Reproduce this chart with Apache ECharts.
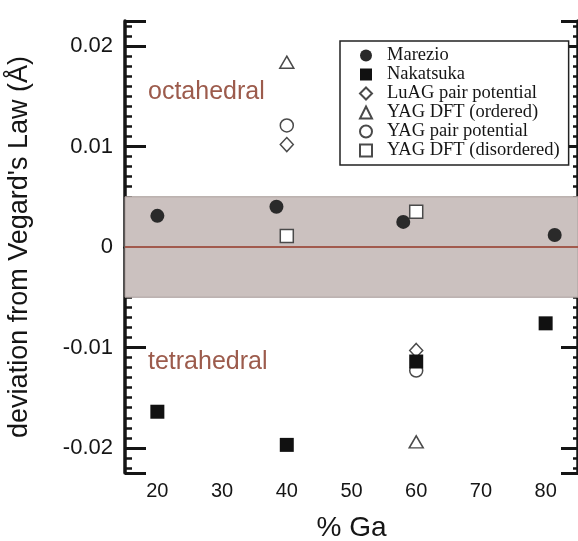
<!DOCTYPE html>
<html>
<head>
<meta charset="utf-8">
<title>Vegard's law deviation</title>
<script src="https://cdn.jsdelivr.net/npm/echarts@6/dist/echarts.min.js"></script>
<style>
  html, body { margin: 0; padding: 0; background: #fff; }
  #main { width: 578px; height: 541px; }
</style>
</head>
<body>
<div id="main"></div>
<script>
// values
var gaMarezio = [20, 38.4, 58, 81.4];
var devMarezio = [0.0031, 0.0040, 0.0025, 0.0012];
var gaNakatsuka = [20, 40, 60, 80];
var devNakatsuka = [-0.0164, -0.0197, -0.0114, -0.0076];
var gaCalc = [40, 60];
var devLuagPair = [0.0102, -0.0103];
var devYagDftOrdered = [0.0184, -0.0194];
var devYagPair = [0.0121, -0.0123];
var devYagDftDisordered = [0.0011, 0.0035];

var seriesNames = ['Marezio', 'Nakatsuka', 'LuAG pair potential', 'YAG DFT (ordered)',
    'YAG pair potential', 'YAG DFT (disordered)'];
var bandLimits = [-0.005, 0.005];

function pairs(xs, ys) {
    return xs.map(function (x, i) { return [x, ys[i]]; });
}

var ink = '#151515';
var sans = '"Liberation Sans", Arial, sans-serif';

var chart = echarts.init(document.getElementById('main'));

// scatter defaults to 0.8 opacity, the figure is fully opaque
var openStyle = { color: '#fff', borderColor: '#4a4a4a', borderWidth: 1.5, opacity: 1 };

option = {
    animation: false,
    grid: { left: 125, right: 0, top: 21, bottom: 68, outerBoundsMode: 'none', containLabel: false },
    legend: {
        data: seriesNames,
        orient: 'vertical',
        left: 340,
        top: 41,
        padding: [5, 9, 5, 19],
        itemWidth: 12,
        itemHeight: 12,
        itemGap: 0,
        backgroundColor: '#fff',
        borderColor: '#222',
        borderWidth: 1.5,
        textStyle: {
            fontFamily: '"Liberation Serif", "Times New Roman", serif',
            fontSize: 18.5,
            lineHeight: 16.5,
            padding: [0, 0, 0, 10],
            color: ink
        }
    },
    xAxis: [
        {
            type: 'value',
            min: 15,
            max: 85,
            splitNumber: 7,
            name: '% Ga',
            nameLocation: 'middle',
            nameGap: 41,
            nameTextStyle: { fontFamily: sans, fontSize: 28, color: ink },
            axisLine: { lineStyle: { color: ink, width: 3 } },
            axisTick: { inside: true, length: 17, lineStyle: { color: ink, width: 3 } },
            axisLabel: { fontFamily: sans, fontSize: 20, color: ink, margin: 8,
                showMinLabel: false, showMaxLabel: false },
            splitLine: { show: false }
        },
        {
            type: 'value',
            position: 'top',
            min: 15,
            max: 85,
            splitNumber: 7,
            axisLine: { lineStyle: { color: ink, width: 3 } },
            axisTick: { inside: true, length: 17, lineStyle: { color: ink, width: 3 } },
            axisLabel: { show: false },
            splitLine: { show: false }
        }
    ],
    yAxis: [
        {
            type: 'value',
            min: -0.0225,
            max: 0.0225,
            splitNumber: 4,
            name: "deviation from Vegard's Law (Å)",
            nameLocation: 'middle',
            nameGap: 92,
            nameTextStyle: { fontFamily: sans, fontSize: 27, color: ink },
            axisLine: { lineStyle: { color: ink, width: 3.5 } },
            axisTick: { inside: true, length: 21, lineStyle: { color: ink, width: 3 } },
            minorTick: { show: true, splitNumber: 10, length: 7, lineStyle: { color: ink, width: 2.5 } },
            axisLabel: { fontFamily: sans, fontSize: 22, color: ink, margin: 12,
                showMinLabel: false, showMaxLabel: false },
            splitLine: { show: false }
        },
        {
            type: 'value',
            position: 'right',
            min: -0.0225,
            max: 0.0225,
            splitNumber: 4,
            axisLine: { lineStyle: { color: ink, width: 3.5 } },
            axisTick: { inside: true, length: 17, lineStyle: { color: ink, width: 3 } },
            minorTick: { show: true, splitNumber: 10, length: 5, lineStyle: { color: ink, width: 2.5 } },
            axisLabel: { show: false },
            splitLine: { show: false }
        }
    ],
    graphic: [
        {
            type: 'text', left: 148, top: 80, z: 5,
            style: { text: 'octahedral', fill: '#9c5b4c', font: '25px ' + sans }
        },
        {
            type: 'text', left: 148, top: 350, z: 5,
            style: { text: 'tetrahedral', fill: '#9c5b4c', font: '25px ' + sans }
        }
    ],
    series: [
        {
            // shaded band and zero line
            name: 'band',
            type: 'scatter',
            data: [],
            silent: true,
            z: 1,
            markArea: {
                silent: true,
                itemStyle: { color: '#cbc1bf', borderColor: '#a99d9b', borderWidth: 1 },
                data: [[{ yAxis: bandLimits[0] }, { yAxis: bandLimits[1] }]]
            },
            markLine: {
                silent: true,
                symbol: 'none',
                label: { show: false },
                lineStyle: { color: '#a25a4d', width: 2, type: 'solid' },
                data: [{ yAxis: 0 }]
            }
        },
        {
            name: seriesNames[0],
            type: 'scatter',
            symbol: 'circle',
            symbolSize: 14,
            z: 4,
            itemStyle: { color: '#2a2a2a', opacity: 1 },
            data: pairs(gaMarezio, devMarezio)
        },
        {
            name: seriesNames[1],
            type: 'scatter',
            symbol: 'rect',
            symbolSize: 14,
            z: 4,
            itemStyle: { color: '#111', opacity: 1 },
            data: pairs(gaNakatsuka, devNakatsuka)
        },
        {
            name: seriesNames[2],
            type: 'scatter',
            symbol: 'diamond',
            symbolSize: [13, 14],
            z: 3,
            itemStyle: openStyle,
            data: pairs(gaCalc, devLuagPair)
        },
        {
            name: seriesNames[3],
            type: 'scatter',
            symbol: 'triangle',
            symbolSize: [14, 12],
            z: 3,
            itemStyle: openStyle,
            data: pairs(gaCalc, devYagDftOrdered)
        },
        {
            name: seriesNames[4],
            type: 'scatter',
            symbol: 'circle',
            symbolSize: 13,
            z: 3,
            itemStyle: openStyle,
            data: pairs(gaCalc, devYagPair)
        },
        {
            name: seriesNames[5],
            type: 'scatter',
            symbol: 'rect',
            symbolSize: 13,
            z: 3,
            itemStyle: openStyle,
            data: pairs(gaCalc, devYagDftDisordered)
        }
    ]
};

chart.setOption(option);
</script>
</body>
</html>
